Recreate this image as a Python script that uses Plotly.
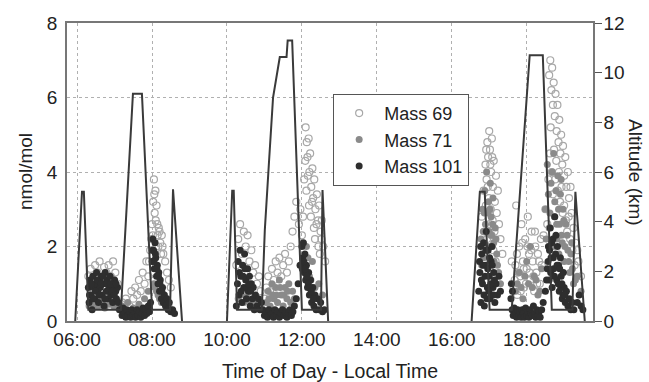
import plotly.graph_objects as go

# ---------------- data ----------------
tick_vals = [6, 8, 10, 12, 14, 16, 18]
tick_text = ["06:00", "08:00", "10:00", "12:00", "14:00", "16:00", "18:00"]

# Altitude (km) vs time of day (decimal hours); None separates flights
alt_time = [5.95, 6.13, 6.18, 6.30, 7.17, 7.49, 7.73, 8.00, 8.48, 8.56, 8.80, None,
            10.00, 10.14, 10.18, 10.27, 10.93, 11.01, 11.12, 11.23, 11.41, 11.59, 11.62, 11.74, 12.00, 12.51, 12.55, 12.70, None,
            16.53, 16.75, 16.88, 17.01, 17.60, 18.08, 18.43, 18.67, 19.22, 19.30, 19.55]
alt_km = [0.0, 5.2, 5.2, 0.45, 0.45, 9.15, 9.15, 0.45, 0.45, 5.3, 0.0, None,
          0.0, 5.25, 5.25, 0.45, 0.45, 3.66, 6.36, 9.0, 10.63, 10.63, 11.3, 11.3, 0.45, 0.45, 5.27, 0.0, None,
          0.0, 5.2, 5.2, 0.45, 0.45, 10.7, 10.7, 0.45, 0.45, 5.2, 0.0]

# Mass 69 (open circles)
m69_t = [6.30, 6.36, 6.42, 6.48, 6.54, 6.60, 6.66, 6.72, 6.78, 6.84, 6.90, 6.96, 7.02, 7.08,
         7.20, 7.30, 7.40, 7.45, 7.50, 7.55, 7.60, 7.65, 7.70, 7.75, 7.80, 7.85, 7.90, 7.95,
         8.00, 8.03, 8.05, 8.07, 8.09, 8.10, 8.12, 8.15, 8.18, 8.22, 8.26, 8.30, 8.35, 8.40, 8.45, 8.50,
         8.02, 8.06, 8.11, 8.14, 8.17, 8.20, 8.24, 8.28, 7.98, 7.92,
         10.25, 10.30, 10.35, 10.40, 10.45, 10.50, 10.55, 10.60, 10.65, 10.70, 10.75, 10.80, 10.85, 10.90,
         11.00, 11.05, 11.10, 11.15, 11.20, 11.25, 11.30, 11.35, 11.40, 11.45, 11.50, 11.55, 11.60, 11.65, 11.70, 11.75, 11.80, 11.85,
         11.92, 11.96, 12.00, 12.03,
         12.10, 12.13, 12.15, 12.18, 12.20, 12.22, 12.25, 12.28, 12.30, 12.33, 12.36, 12.40, 12.43, 12.46, 12.50, 12.53, 12.57, 12.62,
         12.06, 12.09, 12.12, 12.16, 12.19, 12.24, 12.27, 12.32, 12.35, 12.39, 12.44, 12.48, 12.52,
         16.80, 16.85, 16.90, 16.93, 16.95, 16.97, 17.00, 17.02, 17.05, 17.07, 17.10, 17.12, 17.15, 17.18, 17.20, 17.23, 17.26, 17.30, 17.35,
         16.88, 16.91, 16.94, 16.99, 17.01, 17.04, 17.06, 17.09, 17.11, 17.14, 17.17, 16.96, 17.03, 16.92, 17.08,
         17.60, 17.65, 17.70, 17.72, 17.75, 17.80, 17.83, 17.86, 17.90, 17.93, 17.96, 18.00, 18.03, 18.06, 18.10, 18.13, 18.16, 18.20, 18.23, 18.26, 18.30, 18.35, 18.40,
         17.68, 17.74, 17.78, 17.84, 17.88, 17.92, 17.98, 18.02, 18.08, 18.12, 18.18, 18.22, 18.28, 18.33, 18.38,
         18.60, 18.63, 18.66, 18.68, 18.70, 18.72, 18.75, 18.77, 18.80, 18.82, 18.85, 18.87, 18.90, 18.92, 18.95, 18.97, 19.00, 19.03, 19.06, 19.10, 19.13, 19.17, 19.20, 19.25, 19.30, 19.38, 19.45,
         18.45, 18.50, 18.55, 18.58, 18.62, 18.64, 18.67, 18.70, 18.73, 18.76, 18.79, 18.83, 18.86, 18.89, 18.93, 18.96, 19.00, 19.05, 19.08, 19.12, 19.16, 19.22, 19.28, 19.35]
m69_v = [1.2, 1.4, 0.9, 1.5, 1.3, 1.6, 1.1, 1.45, 1.3, 1.5, 1.2, 1.6, 1.3, 1.0,
         0.5, 0.6, 0.4, 0.8, 0.6, 0.9, 0.7, 1.1, 0.8, 1.3, 1.0, 1.6, 1.2, 1.9,
         2.6, 3.2, 3.8, 2.9, 3.5, 2.7, 3.1, 2.3, 2.5, 2.1, 2.3, 1.8, 1.6, 1.3, 1.1, 0.9,
         2.3, 3.4, 2.0, 2.6, 2.0, 2.4, 1.8, 2.0, 2.2, 1.6,
         1.5, 2.2, 2.6, 1.8, 2.4, 2.0, 2.3, 1.6, 1.9, 1.3, 1.5, 1.0, 1.2, 0.8,
         0.6, 0.9, 1.2, 0.8, 1.4, 1.1, 1.6, 1.3, 1.7, 1.2, 1.5, 1.8, 1.3, 1.6, 2.0, 2.4, 2.8, 3.2,
         2.6, 3.0, 2.3, 2.8,
         5.2, 4.8, 4.4, 4.9, 4.0, 4.5, 3.6, 4.1, 3.3, 3.8, 3.0, 3.4, 2.7, 3.1, 2.4, 2.7, 2.0, 1.6,
         3.8, 4.3, 3.5, 3.9, 3.1, 2.8, 3.2, 2.5, 2.2, 2.6, 2.0, 1.8, 2.2,
         2.8, 3.5, 4.2, 3.8, 4.8, 4.4, 5.1, 4.6, 4.0, 4.9, 3.6, 4.3, 3.2, 3.9, 2.9, 3.5, 2.6, 2.2, 1.8,
         2.4, 3.1, 2.2, 3.3, 2.6, 3.0, 2.3, 2.7, 1.9, 2.4, 1.6, 3.6, 4.2, 4.6, 4.4,
         1.6, 0.9, 1.5, 3.1, 0.7, 2.0, 1.2, 2.6, 1.6, 0.9, 2.2, 1.4, 2.8, 1.8, 1.1, 2.4, 1.6, 0.8, 2.0, 1.3, 1.8, 1.0, 1.5,
         1.1, 1.8, 1.3, 0.8, 2.1, 1.4, 1.0, 2.0, 1.3, 1.9, 1.2, 2.4, 1.0, 1.6, 2.2,
         6.6, 7.0, 6.2, 6.8, 5.8, 6.4, 5.5, 6.1, 5.1, 5.8, 4.8, 5.4, 4.5, 5.0, 4.2, 4.7, 3.9, 4.4, 3.6, 4.0, 3.3, 3.6, 2.9, 2.5, 2.1, 1.6, 1.2,
         2.3, 3.0, 2.6, 3.8, 4.5, 5.2, 4.0, 3.4, 4.6, 3.8, 4.3, 3.5, 4.0, 3.2, 3.6, 2.9, 3.1, 2.7, 2.4, 2.8, 2.2, 1.9, 1.5, 1.9]

# Mass 71 (grey filled)
m71_t = [6.32, 6.38, 6.44, 6.50, 6.56, 6.62, 6.68, 6.74, 6.80, 6.86, 6.92, 6.98, 7.04, 7.10,
         6.35, 6.47, 6.59, 6.71, 6.83, 6.95, 7.07,
         7.20, 7.35, 7.50, 7.65, 7.80, 7.90,
         8.05, 8.12, 8.20, 8.25, 8.30, 8.35, 8.40, 8.45, 8.08, 8.16, 8.28,
         10.30, 10.38, 10.45, 10.52, 10.60, 10.70, 10.80,
         11.05, 11.10, 11.15, 11.20, 11.25, 11.30, 11.35, 11.40, 11.45, 11.50, 11.55, 11.60, 11.65, 11.70, 11.75, 11.80,
         11.12, 11.22, 11.32, 11.42, 11.52, 11.62,
         12.05, 12.12, 12.20, 12.28, 12.35, 12.45, 12.55, 12.08, 12.16, 12.24,
         16.78, 16.82, 16.85, 16.88, 16.90, 16.93, 16.95, 16.98, 17.00, 17.03, 17.05, 17.08, 17.10, 17.13, 17.16, 17.20, 17.25, 17.30,
         16.80, 16.84, 16.87, 16.91, 16.96, 16.99, 17.02, 17.06, 17.09, 17.12, 17.18, 17.22,
         17.70, 17.80, 17.90, 18.00, 18.05, 18.10, 18.20, 18.30, 18.40,
         17.75, 17.85, 17.95, 18.15, 18.25, 18.35,
         18.50, 18.55, 18.60, 18.65, 18.70, 18.72, 18.75, 18.80, 18.83, 18.86, 18.90, 18.93, 18.97, 19.00, 19.05, 19.10, 19.15, 19.20, 19.25, 19.35, 19.45,
         18.52, 18.58, 18.62, 18.68, 18.74, 18.78, 18.81, 18.85, 18.88, 18.92, 18.95, 18.99, 19.02, 19.08, 19.12, 19.18, 19.22, 19.30]
m71_v = [0.4, 0.6, 0.45, 0.55, 0.4, 0.6, 0.5, 0.35, 0.55, 0.45, 0.6, 0.4, 0.5, 0.35,
         0.5, 0.5, 0.45, 0.55, 0.5, 0.5, 0.45,
         0.4, 0.5, 0.35, 0.45, 0.6, 0.8,
         1.0, 0.8, 0.6, 0.5, 0.7, 0.45, 0.55, 0.4, 0.9, 0.7, 0.6,
         0.6, 0.7, 0.5, 0.65, 0.55, 0.5, 0.45,
         0.5, 0.8, 0.4, 1.0, 0.6, 0.9, 0.5, 1.1, 0.7, 0.4, 0.9, 0.6, 1.0, 0.5, 0.8, 0.6,
         0.6, 0.7, 0.7, 0.9, 0.7, 0.8,
         1.5, 2.0, 1.2, 1.6, 0.9, 1.0, 0.7, 1.3, 1.7, 1.1,
         2.2, 3.0, 1.7, 3.5, 2.6, 4.0, 1.9, 3.2, 2.4, 3.7, 2.8, 2.0, 3.3, 1.6, 2.5, 1.8, 1.3, 1.0,
         1.5, 2.4, 2.9, 2.0, 2.9, 2.0, 3.0, 2.3, 2.6, 2.1, 2.2, 1.5,
         0.8, 1.3, 0.6, 1.6, 1.0, 2.0, 1.2, 0.7, 1.4,
         1.0, 0.9, 1.2, 0.9, 1.1, 0.8,
         3.0, 4.2, 2.5, 3.7, 2.0, 4.5, 3.2, 2.6, 3.9, 1.8, 3.4, 2.3, 3.0, 1.6, 2.6, 1.9, 1.3, 2.1, 1.0, 1.2, 0.8,
         2.2, 3.4, 2.9, 4.0, 2.8, 3.5, 2.2, 3.0, 2.6, 3.8, 2.1, 2.7, 2.0, 2.3, 1.6, 1.8, 1.4, 1.1]

# Mass 101 (dark filled)
m101_t = [6.30, 6.32, 6.35, 6.37, 6.40, 6.42, 6.45, 6.47, 6.50, 6.52, 6.55, 6.57, 6.60, 6.62, 6.65, 6.67, 6.70, 6.72, 6.75, 6.78,
          6.80, 6.83, 6.85, 6.88, 6.90, 6.93, 6.95, 6.98, 7.00, 7.03, 7.05, 7.08, 7.10, 7.13,
          6.33, 6.38, 6.43, 6.49, 6.54, 6.59, 6.64, 6.69, 6.74, 6.79, 6.84, 6.89, 6.94, 6.99, 7.04,
          7.17, 7.20, 7.23, 7.26, 7.30, 7.33, 7.36, 7.40, 7.43, 7.46, 7.50, 7.53, 7.56, 7.60, 7.63, 7.66, 7.70, 7.73, 7.76, 7.80,
          7.83, 7.86, 7.90, 7.93, 7.96,
          8.00, 8.02, 8.04, 8.06, 8.08, 8.10, 8.12, 8.14, 8.16, 8.18, 8.20, 8.22, 8.25, 8.28, 8.30, 8.33, 8.36, 8.40, 8.43, 8.46, 8.50, 8.55, 8.60,
          8.01, 8.05, 8.09, 8.13, 8.17, 8.21, 8.26,
          10.25, 10.28, 10.30, 10.32, 10.35, 10.37, 10.40, 10.42, 10.45, 10.47, 10.50, 10.52, 10.55, 10.57, 10.60, 10.62, 10.65, 10.68, 10.70,
          10.73, 10.76, 10.80, 10.84, 10.88, 10.92,
          10.33, 10.38, 10.43, 10.48, 10.53, 10.58, 10.63,
          10.96, 11.00, 11.04, 11.08, 11.12, 11.16, 11.20, 11.24, 11.28, 11.32, 11.36, 11.40, 11.44, 11.48, 11.52, 11.56, 11.60, 11.64,
          11.68, 11.72, 11.76, 11.80,
          11.85, 11.90, 11.95, 12.00, 12.02, 12.04, 12.06, 12.08, 12.10, 12.12, 12.15, 12.18, 12.20, 12.23, 12.26, 12.29, 12.32, 12.35,
          12.38, 12.42, 12.46, 12.50, 12.55, 12.60,
          12.01, 12.05, 12.09, 12.13, 12.17, 12.21, 12.25, 12.31,
          16.72, 16.75, 16.78, 16.80, 16.82, 16.85, 16.87, 16.90, 16.92, 16.95, 16.97, 17.00, 17.02, 17.05, 17.07, 17.10, 17.12, 17.15,
          17.18, 17.22, 17.26, 17.30,
          16.74, 16.77, 16.79, 16.83, 16.86, 16.89, 16.91, 16.94, 16.96, 16.99, 17.01, 17.04, 17.08, 17.11, 17.14,
          17.58, 17.59, 17.61, 17.62, 17.64, 17.67, 17.70, 17.73, 17.76, 17.79, 17.82, 17.85, 17.88, 17.91, 17.94, 17.97, 18.00, 18.03,
          18.06, 18.09, 18.12, 18.15, 18.18, 18.21, 18.24, 18.27, 18.30, 18.33, 18.36, 18.40, 18.44,
          18.50, 18.55, 18.58, 18.60, 18.63, 18.65, 18.68, 18.70, 18.72, 18.75, 18.77, 18.80, 18.82, 18.85, 18.87, 18.90, 18.92, 18.95,
          18.98, 19.00, 19.03, 19.06, 19.10, 19.14, 19.18, 19.22, 19.26, 19.35, 19.40, 19.45, 19.50,
          18.53, 18.57, 18.61, 18.64, 18.67, 18.71, 18.74, 18.78, 18.81, 18.84, 18.88, 18.91, 18.94, 18.97, 19.02]
m101_v = [0.9, 0.5, 1.1, 0.7, 0.3, 1.2, 0.9, 0.6, 1.0, 1.3, 0.8, 0.5, 1.1, 0.9, 1.2, 0.7, 1.0, 0.4, 1.3, 0.8,
          1.1, 0.6, 0.9, 1.2, 0.7, 1.0, 0.5, 0.9, 1.1, 0.8, 0.6, 0.9, 0.5, 0.3,
          0.7, 1.0, 0.6, 0.8, 1.1, 0.7, 1.0, 1.2, 0.6, 1.0, 0.8, 1.0, 0.8, 0.7, 1.0,
          0.3, 0.15, 0.35, 0.2, 0.1, 0.3, 0.15, 0.25, 0.1, 0.3, 0.15, 0.2, 0.1, 0.3, 0.15, 0.25, 0.1, 0.2, 0.35, 0.15,
          0.3, 0.2, 0.4, 0.25, 0.5,
          1.6, 2.2, 1.9, 1.4, 2.1, 1.7, 1.2, 1.5, 1.0, 1.3, 0.8, 1.1, 0.6, 0.9, 0.5, 0.7, 0.4, 0.6, 0.3, 0.5, 0.25, 0.3, 0.2,
          1.9, 1.6, 1.8, 1.4, 1.2, 1.0, 0.8,
          0.4, 1.0, 1.6, 0.7, 1.9, 1.2, 0.5, 1.5, 0.9, 1.8, 1.1, 0.6, 1.4, 0.8, 1.2, 0.4, 1.0, 0.6, 0.9,
          0.3, 0.7, 0.4, 0.6, 0.3, 0.5,
          1.3, 0.8, 1.2, 1.4, 0.9, 1.0, 0.8,
          0.3, 0.15, 0.25, 0.1, 0.3, 0.15, 0.2, 0.1, 0.3, 0.15, 0.25, 0.1, 0.2, 0.3, 0.15, 0.25, 0.1, 0.2,
          0.3, 0.15, 0.25, 0.4,
          0.6, 1.0, 1.5, 2.0, 1.7, 2.1, 1.3, 1.8, 1.1, 1.5, 0.9, 1.3, 0.7, 1.1, 0.5, 0.9, 0.4, 0.7,
          0.3, 0.6, 0.3, 0.5, 0.25, 0.3,
          1.4, 1.6, 1.4, 1.2, 1.0, 0.9, 0.8, 0.6,
          0.8, 1.3, 0.5, 1.8, 1.0, 2.1, 0.4, 1.5, 2.4, 0.9, 1.9, 1.2, 0.6, 1.6, 2.0, 0.9, 1.3, 0.5,
          1.0, 0.7, 1.2, 0.8,
          1.6, 2.0, 1.1, 1.5, 0.7, 1.2, 1.9, 0.6, 1.4, 0.8, 1.7, 1.0, 1.5, 0.7, 1.1,
          0.6, 1.0, 0.3, 0.8, 0.15, 0.35, 0.2, 0.1, 0.3, 0.15, 0.25, 0.1, 0.3, 0.2, 0.1, 0.35, 0.15, 0.25,
          0.1, 0.3, 0.2, 0.15, 0.4, 0.2, 0.1, 0.3, 0.15, 0.25, 0.1, 0.3, 0.5,
          0.8, 1.4, 2.0, 1.1, 2.5, 1.7, 0.9, 2.2, 1.4, 2.8, 1.8, 1.1, 2.0, 1.5, 0.8, 1.7, 1.2, 0.6,
          1.3, 0.9, 0.5, 0.8, 0.4, 0.6, 0.3, 0.5, 0.3, 0.5, 0.7, 0.4, 0.3,
          1.1, 1.6, 1.9, 1.3, 2.1, 1.7, 1.2, 2.3, 1.5, 1.0, 1.4, 0.9, 1.0, 0.7, 0.7]

# ---------------- figure ----------------
FONT = "Liberation Sans, Arial, Helvetica, sans-serif"
fig = go.Figure()

fig.add_trace(go.Scatter(x=m69_t, y=m69_v, mode="markers", name="Mass 69",
                         marker=dict(symbol="circle-open", size=7, color="#a8a8a8", line=dict(width=1.2))))
fig.add_trace(go.Scatter(x=m71_t, y=m71_v, mode="markers", name="Mass 71",
                         marker=dict(symbol="circle", size=7, color="#8a8a8a")))
fig.add_trace(go.Scatter(x=m101_t, y=m101_v, mode="markers", name="Mass 101",
                         marker=dict(symbol="circle", size=7, color="#2e2e2e")))
fig.add_trace(go.Scatter(x=alt_time, y=alt_km, mode="lines", name="Altitude", yaxis="y2",
                         showlegend=False, connectgaps=False,
                         line=dict(color="#3a3a3a", width=2)))

grid = dict(showgrid=True, gridcolor="#b0b0b0", griddash="dot", gridwidth=1)

fig.update_layout(
    width=649, height=382,
    margin=dict(l=67, r=56, t=23, b=61, autoexpand=False),
    paper_bgcolor="white", plot_bgcolor="white",
    font=dict(family=FONT, size=19, color="#222"),
    showlegend=True,
    legend=dict(x=0.506, y=0.762, xanchor="left", yanchor="top",
                bgcolor="white", bordercolor="#555", borderwidth=1,
                font=dict(size=18), tracegroupgap=0, itemwidth=40),
    xaxis=dict(range=[5.73, 19.77], tickvals=tick_vals, ticktext=tick_text,
               showline=True, linecolor="#777", linewidth=1.5, mirror=True,
               ticks="", zeroline=False, automargin=False,
               title=dict(text="Time of Day - Local Time", standoff=16, font=dict(size=19.5)), **grid),
    yaxis=dict(range=[0, 8], dtick=2, showline=True, linecolor="#777", linewidth=1.5,
               mirror=True, ticks="", ticklabelstandoff=4, zeroline=False, automargin=False, **grid),
    yaxis2=dict(range=[0, 12], dtick=2, overlaying="y", side="right", showgrid=False,
                showline=True, linecolor="#777", linewidth=1.5, ticks="outside",
                ticklen=7, tickcolor="#555", ticklabelstandoff=-2, zeroline=False, automargin=False),
    annotations=[
        dict(text="nmol/mol", xref="paper", yref="paper", x=0, xshift=-42, y=0.5,
             xanchor="center", yanchor="middle", textangle=-90, showarrow=False,
             font=dict(size=19)),
        dict(text="Altitude (km)", xref="paper", yref="paper", x=1, xshift=43, y=0.5,
             xanchor="center", yanchor="middle", textangle=90, showarrow=False,
             font=dict(size=19)),
    ],
)

fig.write_html("out.html", config={"displayModeBar": False},
               post_script="document.body.style.margin='0px';")
